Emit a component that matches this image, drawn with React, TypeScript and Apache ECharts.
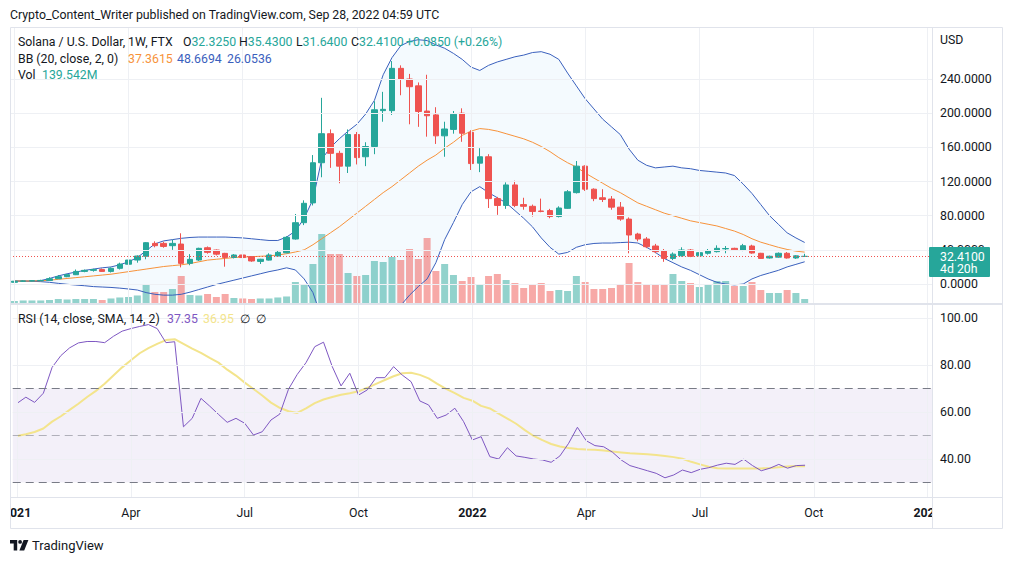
import React, { useEffect, useRef } from 'react';
import * as echarts from 'echarts';

// ---------- axis / calendar ----------
const WEEK_COUNT = 105; // weekly slots shown on the time axis (Jan 2021 .. Jan 2023)
const TICK_LABELS: [string, string][] = [
  ['2021-01-04', '2021'], ['2021-04-05', 'Apr'], ['2021-07-05', 'Jul'], ['2021-10-04', 'Oct'],
  ['2022-01-03', '2022'], ['2022-04-04', 'Apr'], ['2022-07-04', 'Jul'], ['2022-10-03', 'Oct'],
  ['2023-01-02', '2023'],
];
const PRICE_TICKS = [0, 40, 80, 120, 160, 200, 240];
const RSI_TICKS = [40, 60, 80, 100];
const RSI_BANDS = [70, 50, 30];

// ---------- data (weekly, from 2021-01-04) ----------
// [open, close, low, high]
const ohlc: number[][] = [
  [2.0, 3.3, 1.9, 3.9], [3.3, 3.6, 2.9, 4.3], [3.6, 3.9, 3.1, 4.2], [3.9, 4.2, 3.5, 5.0],
  [4.2, 6.2, 4.0, 8.0], [6.2, 8.6, 6.0, 10.5], [8.6, 11.0, 8.0, 11.5], [10.9, 14.8, 10.5, 17.0],
  [14.8, 16.0, 13.8, 17.0], [16.0, 16.9, 14.5, 18.0], [16.9, 14.8, 14.2, 18.2], [14.8, 18.4, 13.5, 19.5],
  [18.4, 23.4, 17.0, 25.0], [23.2, 28.1, 21.5, 29.5], [28.1, 32.8, 25.0, 33.5], [32.5, 48.4, 29.0, 49.0],
  [47.6, 44.9, 43.0, 50.0], [47.6, 44.0, 42.5, 49.5], [44.9, 47.6, 40.0, 52.0], [46.8, 24.2, 19.5, 59.4],
  [24.2, 28.9, 22.0, 35.0], [28.1, 41.8, 27.0, 42.5], [42.5, 37.1, 35.5, 44.0], [39.8, 35.0, 33.5, 40.5],
  [35.9, 31.2, 20.3, 36.5], [31.2, 34.0, 30.0, 35.0], [34.0, 31.0, 30.0, 35.0], [32.0, 27.0, 26.0, 32.5],
  [26.5, 29.0, 23.5, 29.5], [28.0, 34.0, 27.5, 36.0], [32.8, 37.1, 32.0, 39.5], [36.6, 54.7, 36.0, 56.0],
  [52.7, 71.8, 52.0, 82.0], [71.8, 94.5, 69.0, 98.0], [95.0, 142.0, 92.0, 151.0], [142.0, 176.0, 125.0, 218.0],
  [176.0, 153.0, 136.0, 181.0], [153.0, 138.0, 118.0, 156.0], [138.0, 175.0, 130.0, 181.0], [175.0, 148.0, 140.0, 178.0],
  [149.0, 161.0, 138.0, 166.0], [161.0, 204.0, 152.0, 214.0], [203.0, 204.5, 190.0, 225.0], [203.0, 252.5, 198.0, 261.0],
  [252.5, 240.0, 221.0, 256.0], [240.0, 231.0, 187.0, 246.0], [232.0, 202.0, 184.0, 236.0], [202.5, 197.0, 172.5, 245.0],
  [198.0, 173.5, 164.0, 207.0], [173.5, 181.5, 149.0, 190.0], [181.0, 198.7, 176.0, 202.6], [200.0, 176.5, 166.5, 205.7],
  [177.6, 141.0, 133.5, 180.0], [141.5, 149.0, 131.0, 159.0], [149.0, 100.0, 89.0, 152.0], [100.0, 92.0, 81.0, 102.0],
  [92.0, 116.0, 88.0, 119.0], [116.0, 92.0, 90.0, 121.0], [93.0, 91.0, 87.0, 101.0], [91.0, 85.0, 79.0, 93.0],
  [85.5, 85.0, 84.0, 100.0], [86.0, 79.0, 77.0, 88.0], [79.0, 89.0, 78.0, 91.0], [88.6, 108.0, 88.0, 110.0],
  [107.0, 138.0, 106.0, 144.0], [138.0, 111.0, 109.0, 139.0], [111.0, 100.0, 97.0, 112.0], [101.0, 99.0, 96.0, 111.0],
  [99.5, 90.0, 87.0, 103.0], [90.0, 76.0, 74.0, 96.0], [76.0, 57.4, 36.0, 78.0], [58.5, 52.7, 50.0, 60.0],
  [52.7, 43.7, 42.0, 55.0], [44.5, 37.9, 36.0, 47.0], [38.6, 30.0, 26.0, 41.0], [30.0, 35.0, 28.0, 37.0],
  [33.2, 39.8, 32.0, 43.0], [39.8, 32.5, 31.5, 41.0], [33.0, 36.7, 31.0, 39.0], [36.0, 39.0, 34.5, 41.0],
  [37.9, 41.8, 37.0, 45.3], [41.2, 41.6, 36.0, 44.5], [41.8, 40.0, 39.0, 42.5], [39.8, 44.9, 38.5, 47.0],
  [44.5, 36.3, 35.5, 46.0], [36.0, 30.0, 29.5, 36.5], [30.5, 32.5, 29.8, 33.2], [31.5, 36.0, 31.0, 37.0],
  [36.0, 30.5, 29.8, 37.5], [30.5, 33.0, 29.5, 33.8], [32.325, 32.41, 31.64, 35.43],
];

// weekly volume, millions of USD
const volume = [
  70, 88, 88, 88, 105, 140, 123, 140, 140, 140,
  105, 158, 193, 210, 263, 630, 385, 385, 490, 945,
  280, 263, 315, 210, 315, 175, 158, 140, 158, 158,
  193, 228, 735, 665, 1365, 2415, 1715, 1715, 1050, 945,
  980, 1470, 1435, 1610, 1505, 1890, 1540, 2275, 1120, 1365,
  980, 770, 910, 665, 945, 1015, 805, 700, 525, 665,
  700, 420, 455, 420, 945, 735, 490, 490, 525, 630,
  1400, 735, 665, 665, 630, 1015, 770, 700, 560, 630,
  770, 770, 595, 595, 735, 455, 350, 350, 455, 350,
  139.542,
];

const bbUpper = [
  3.5, 3.5, 3.5, 4, 6.5, 9.5, 12, 14, 16, 17.5,
  19, 20, 22.5, 26, 31, 39, 47, 50.5, 52, 53.5,
  54.5, 55, 55, 55, 55, 54.5, 54, 53, 52, 51,
  51, 55, 62, 77, 99, 146, 160, 170, 179, 187,
  199, 215, 245, 265, 279, 284, 286, 285, 280, 276,
  270, 263, 254, 250, 256, 260, 263, 266, 268, 271,
  272, 269, 263, 247, 232, 217, 205, 193, 184, 175,
  158, 145, 139, 136, 137, 138, 136, 135, 133, 132,
  131, 130, 127, 117, 106, 93, 80, 70, 60, 54,
  48.6694,
];
const bbBasis = [
  3.5, 3.5, 3.6, 3.8, 4.5, 5.5, 6.5, 7.5, 8.5, 9.5,
  10.5, 11.5, 13, 14.5, 16, 17.5, 19, 20.5, 21.5, 22.5,
  24, 26, 28, 29, 30, 31, 31.5, 32, 32.5, 33,
  34, 35.5, 37.5, 40, 46, 53, 60, 67, 75, 83,
  91, 99, 107, 114, 122, 130, 138, 145, 151, 159,
  166, 174, 179, 182, 181, 179, 176, 173, 170, 166,
  161, 155, 148, 142, 137, 130, 124, 118, 112, 107,
  101, 95, 91, 87, 83, 80, 77, 74, 72, 70,
  68, 65, 62, 58, 53, 49, 46, 43, 40.5, 38.5,
  37.3615,
];
const bbLower = [
  3.5, 3.4, 3.2, 2.8, 2, 0.8, -0.3, -1.2, -2, -3,
  -3.5, -4, -4.8, -5.8, -7, -10, -12, -13, -13, -12,
  -9.5, -6.5, -3.5, -0.5, 2, 4.5, 7, 9.5, 12, 14.5,
  16.5, 19, 16.5, 6, -10, -40, -55, -65, -70, -72,
  -70, -62, -52, -40, -25, -13, -3, 6, 25, 52,
  72, 93, 108, 114, 107, 101, 95, 86, 77, 67,
  54, 43, 35, 37, 43, 46, 47.5, 48, 48, 48.5,
  49, 48, 43, 37, 30, 25, 20, 16, 11, 6,
  2, 0, -1, 0, 6, 10, 13, 16, 20, 23,
  26.0536,
];

const rsi = [
  63.7, 66.3, 64.1, 68, 79, 84, 87.3, 89.4, 90, 90,
  89.5, 92.2, 94.4, 95.5, 96.4, 97.2, 95.5, 89.5, 89.9, 53.7,
  57.3, 65.8, 62.5, 59, 55.6, 57.3, 55.2, 50.2, 51.6, 56.6,
  59.1, 69.7, 76, 81, 87.8, 89.7, 79.3, 71.1, 76.5, 67.2,
  69.4, 74.6, 74.6, 79.3, 75.7, 72.9, 64.7, 63, 57.3, 58.7,
  61.6, 55.9, 48.1, 49.5, 41, 40, 44.8, 41.3, 40.7, 40,
  39.6, 38.6, 41.3, 46.7, 53.5, 47.8, 45.7, 45.2, 42.9, 39.6,
  37.2, 36.1, 35, 33.9, 32, 33.2, 35.3, 34.2, 35.6, 36.3,
  37.4, 38.2, 37.7, 39.9, 37.2, 35, 36.1, 37.7, 36.1, 37.2,
  37.35,
];
const rsiMa = [
  49.8, 50.5, 51.5, 53, 55.9, 58.2, 60.9, 63.5, 66.4, 69,
  72, 75.5, 79, 82, 85, 87.2, 89, 90.6, 91, 89,
  87, 85.2, 83, 81, 78, 75.5, 72.5, 69.8, 67, 64,
  61.8, 60.3, 59.6, 61.5, 63.8, 65.3, 66.4, 67.3, 68, 68.8,
  70.3, 72, 73.6, 75.2, 76.5, 76.7, 75.8, 74.3, 72, 69.8,
  68, 66, 64.8, 62.6, 61.5, 59.3, 57.2, 55, 52.3, 49.8,
  48, 46.4, 45.3, 44.7, 44.3, 44, 43.9, 43.6, 43.2, 42.8,
  42.4, 42.2, 42, 41.7, 41.3, 40.8, 40.1, 38.8, 37.7, 36.7,
  36.1, 36, 36, 36, 36, 36, 36.2, 36.5, 36.8, 37,
  36.95,
];

const LAST_CLOSE = 32.41;

// ---------- style ----------
const UP = '#26a69a';
const DOWN = '#ef5350';
const BB_BLUE = '#3a60bd';
const BB_ORANGE = '#f7923a';
const RSI_PURPLE = '#7e57c2';
const RSI_YELLOW = '#f3e48c';
const TEXT = '#131722';
const GRID = '#eef0f4';
const BORDER = '#e0e3eb';
const FONT = 'Roboto';
const FS = 12.3;

echarts.graphic.registerShape(
  'tvlogo',
  echarts.graphic.extendPath(
    'M0 0H7.2V10.4H3.7V3.4H0Z M12 1.9A1.9 1.9 0 1 1 8.2 1.9A1.9 1.9 0 1 1 12 1.9Z M13.6 0H18.4L14.2 10.4H9.4Z',
    {}
  ) as any
);

function weekDates(): string[] {
  const out: string[] = [];
  const start = Date.UTC(2021, 0, 4);
  for (let i = 0; i < WEEK_COUNT; i++) {
    out.push(new Date(start + i * 7 * 86400000).toISOString().slice(0, 10));
  }
  return out;
}

function txt(x: number, y: number, text: string, fill: string, extra: any = {}) {
  return {
    type: 'text',
    x,
    y,
    silent: true,
    z: 100,
    style: {
      text,
      fill,
      fontSize: FS,
      fontFamily: FONT,
      verticalAlign: 'middle',
      ...extra,
    },
  };
}

export default function App() {
  const ref = useRef<HTMLDivElement>(null);

  useEffect(() => {
    document.body.style.margin = '0';
    if (!ref.current) return;
    const chart = echarts.init(ref.current, undefined, { renderer: 'svg' });

    const cats = weekDates();
    const labelMap: Record<string, string> = {};
    TICK_LABELS.forEach(([d, l]) => (labelMap[d] = l));

    const volData = volume.map((v, i) => ({
      value: v,
      itemStyle: { color: ohlc[i][1] >= ohlc[i][0] ? 'rgba(38,166,154,0.5)' : 'rgba(239,83,80,0.5)' },
    }));
    const bandWidth = bbUpper.map((u, i) => u - bbLower[i]);

    const gridLineStyle = { color: GRID, width: 1, type: 'solid' };
    const vLines = TICK_LABELS.map(([d]) => ({ xAxis: d, lineStyle: gridLineStyle }));
    const priceGrid = [...PRICE_TICKS.map((v) => ({ yAxis: v, lineStyle: gridLineStyle })), ...vLines];
    const rsiGrid = [
      ...RSI_TICKS.map((v) => ({ yAxis: v, lineStyle: gridLineStyle })),
      ...vLines,
      ...RSI_BANDS.map((v) => ({
        yAxis: v,
        lineStyle: { color: v === 50 ? 'rgba(120,123,134,0.55)' : '#787b86', width: 1, type: [8, 5] },
      })),
    ];

    const option: any = {
      animation: false,
      backgroundColor: '#ffffff',
      grid: [
        { left: 10, top: 27, width: 922, height: 276 },
        { left: 10, top: 305, width: 922, height: 192 },
      ],
      xAxis: [
        {
          type: 'category',
          gridIndex: 0,
          data: cats,
          boundaryGap: true,
          axisLine: { show: false },
          axisTick: { show: false },
          axisLabel: { show: false },
          splitLine: { show: false },
        },
        {
          type: 'category',
          gridIndex: 1,
          data: cats,
          boundaryGap: true,
          axisLine: { show: false },
          axisTick: { show: false },
          splitLine: { show: false },
          axisLabel: {
            interval: (_i: number, v: string) => labelMap[v] !== undefined,
            formatter: (v: string) => {
              const l = labelMap[v] || '';
              return /^\d{4}$/.test(l) ? `{b|${l}}` : l;
            },
            color: TEXT,
            fontSize: FS,
            fontFamily: FONT,
            margin: 10,
            rich: { b: { fontWeight: 'bold', fontSize: FS, fontFamily: FONT, color: TEXT } },
          },
        },
      ],
      yAxis: [
        {
          type: 'value',
          gridIndex: 0,
          position: 'right',
          min: -22.2,
          max: 300.9,
          axisLine: { show: false },
          axisTick: { show: false },
          splitLine: { show: false },
          axisLabel: {
            customValues: PRICE_TICKS,
            formatter: (v: number) => v.toFixed(4),
            color: TEXT,
            fontSize: FS,
            fontFamily: FONT,
            margin: 8,
          },
        },
        {
          type: 'value',
          gridIndex: 0,
          min: 0,
          max: 9660,
          show: false,
          splitLine: { show: false },
        },
        {
          type: 'value',
          gridIndex: 1,
          position: 'right',
          min: 23.83,
          max: 105.53,
          axisLine: { show: false },
          axisTick: { show: false },
          splitLine: { show: false },
          axisLabel: {
            customValues: RSI_TICKS,
            formatter: (v: number) => v.toFixed(2),
            color: TEXT,
            fontSize: FS,
            fontFamily: FONT,
            margin: 8,
          },
        },
      ],
      series: [
        {
          name: 'bbBase',
          type: 'line',
          xAxisIndex: 0,
          yAxisIndex: 0,
          data: bbLower,
          stack: 'bb',
          stackStrategy: 'all',
          symbol: 'none',
          silent: true,
          lineStyle: { opacity: 0 },
          z: 1,
          markLine: { silent: true, symbol: ['none', 'none'], label: { show: false }, data: priceGrid },
        },
        {
          name: 'bbFill',
          type: 'line',
          xAxisIndex: 0,
          yAxisIndex: 0,
          data: bandWidth,
          stack: 'bb',
          stackStrategy: 'all',
          symbol: 'none',
          silent: true,
          lineStyle: { opacity: 0 },
          areaStyle: { color: 'rgba(33,150,243,0.075)' },
          z: 1,
        },
        {
          name: 'Vol',
          type: 'bar',
          xAxisIndex: 0,
          yAxisIndex: 1,
          data: volData,
          barWidth: 7,
          silent: true,
          z: 2,
        },
        {
          name: 'Upper',
          type: 'line',
          xAxisIndex: 0,
          yAxisIndex: 0,
          data: bbUpper,
          symbol: 'none',
          silent: true,
          lineStyle: { color: BB_BLUE, width: 1 },
          z: 3,
        },
        {
          name: 'Lower',
          type: 'line',
          xAxisIndex: 0,
          yAxisIndex: 0,
          data: bbLower,
          symbol: 'none',
          silent: true,
          lineStyle: { color: BB_BLUE, width: 1 },
          z: 3,
        },
        {
          name: 'Basis',
          type: 'line',
          xAxisIndex: 0,
          yAxisIndex: 0,
          data: bbBasis,
          symbol: 'none',
          silent: true,
          lineStyle: { color: BB_ORANGE, width: 1 },
          z: 3,
        },
        {
          name: 'SOLUSD',
          type: 'candlestick',
          xAxisIndex: 0,
          yAxisIndex: 0,
          data: ohlc,
          barWidth: 6,
          silent: true,
          z: 4,
          itemStyle: { color: UP, color0: DOWN, borderColor: UP, borderColor0: DOWN, borderWidth: 1 },
          markLine: {
            silent: true,
            symbol: ['none', 'none'],
            label: { show: false },
            data: [{ yAxis: LAST_CLOSE }],
            lineStyle: { color: DOWN, width: 1, type: [1, 2] },
          },
        },
        {
          name: 'rsiBack',
          type: 'line',
          xAxisIndex: 1,
          yAxisIndex: 2,
          data: rsi,
          symbol: 'none',
          silent: true,
          lineStyle: { opacity: 0 },
          z: 1,
          markArea: {
            silent: true,
            itemStyle: { color: 'rgba(126,87,194,0.09)' },
            data: [[{ yAxis: 70 }, { yAxis: 30 }]],
          },
          markLine: { silent: true, symbol: ['none', 'none'], label: { show: false }, data: rsiGrid },
        },
        {
          name: 'RSI MA',
          type: 'line',
          xAxisIndex: 1,
          yAxisIndex: 2,
          data: rsiMa,
          symbol: 'none',
          silent: true,
          lineStyle: { color: RSI_YELLOW, width: 2 },
          z: 3,
        },
        {
          name: 'RSI',
          type: 'line',
          xAxisIndex: 1,
          yAxisIndex: 2,
          data: rsi,
          symbol: 'none',
          silent: true,
          lineStyle: { color: RSI_PURPLE, width: 1 },
          z: 4,
        },
      ],
      graphic: [
        // masks for clipped time-axis labels
        { type: 'rect', silent: true, z: 95, shape: { x: 0, y: 498, width: 10, height: 30 }, style: { fill: '#fff' } },
        { type: 'rect', silent: true, z: 95, shape: { x: 933, y: 498, width: 78, height: 30 }, style: { fill: '#fff' } },
        // frame and separators
        { type: 'rect', silent: true, z: 96, shape: { x: 10.5, y: 27.5, width: 992, height: 501 }, style: { fill: 'none', stroke: BORDER, lineWidth: 1 } },
        { type: 'line', silent: true, z: 96, shape: { x1: 10, y1: 304, x2: 1003, y2: 304 }, style: { stroke: BORDER, lineWidth: 2 } },
        { type: 'line', silent: true, z: 96, shape: { x1: 10, y1: 497.5, x2: 1003, y2: 497.5 }, style: { stroke: BORDER, lineWidth: 1 } },
        { type: 'line', silent: true, z: 96, shape: { x1: 932.5, y1: 27, x2: 932.5, y2: 528 }, style: { stroke: BORDER, lineWidth: 1 } },
        // header
        txt(10, 15, 'Crypto_Content_Writer published on TradingView.com, Sep 28, 2022 04:59 UTC', TEXT),
        // legend
        txt(18, 42, 'Solana / U.S. Dollar, 1W, FTX', TEXT),
        txt(183, 42, 'O{v|32.3250}', TEXT, { rich: { v: { fill: UP, fontSize: FS, fontFamily: FONT } } }),
        txt(239, 42, 'H{v|35.4300}', TEXT, { rich: { v: { fill: UP, fontSize: FS, fontFamily: FONT } } }),
        txt(296, 42, 'L{v|31.6400}', TEXT, { rich: { v: { fill: UP, fontSize: FS, fontFamily: FONT } } }),
        txt(351, 42, 'C{v|32.4100}', TEXT, { rich: { v: { fill: UP, fontSize: FS, fontFamily: FONT } } }),
        txt(406, 42, '+0.0850 (+0.26%)', UP),
        txt(18, 58.5, 'BB (20, close, 2, 0)', TEXT),
        txt(128, 58.5, '37.3615', BB_ORANGE),
        txt(177, 58.5, '48.6694', BB_BLUE),
        txt(227, 58.5, '26.0536', BB_BLUE),
        txt(18, 75, 'Vol', TEXT),
        txt(42, 75, '139.542M', UP),
        txt(18, 319, 'RSI (14, close, SMA, 14, 2)', TEXT),
        txt(167, 319, '37.35', RSI_PURPLE),
        txt(203, 319, '36.95', RSI_YELLOW),
        txt(240, 319, '\u2205', TEXT),
        txt(256, 319, '\u2205', TEXT),
        // price axis header
        txt(940, 40, 'USD', TEXT),
        // last price label
        { type: 'rect', silent: true, z: 97, shape: { x: 929, y: 247, width: 61, height: 30, r: 1 }, style: { fill: UP } },
        { ...txt(940, 256.5, '32.4100', '#ffffff'), z: 98 },
        { ...txt(940, 268.5, '4d 20h', '#ffffff'), z: 98 },
        // footer logo
        { type: 'tvlogo', silent: true, z: 100, x: 10, y: 540, scaleX: 1, scaleY: 1, style: { fill: TEXT } },
        txt(32, 545.5, 'TradingView', TEXT, { fontSize: 13 }),
      ],
    };

    chart.setOption(option);
    return () => chart.dispose();
  }, []);

  return (
    <div
      ref={ref}
      style={{ position: 'fixed', left: 0, top: 0, width: 1011, height: 563, background: '#fff' }}
    />
  );
}
